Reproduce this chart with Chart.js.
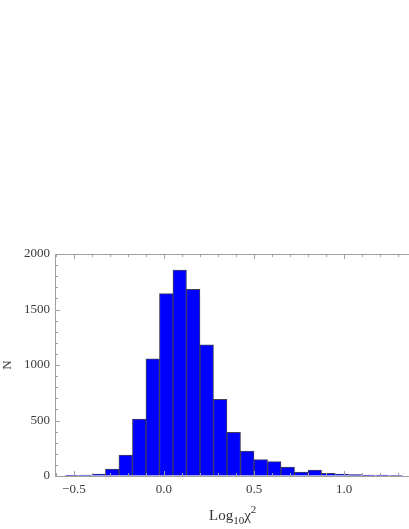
<!DOCTYPE html>
<html>
<head>
<meta charset="utf-8">
<script src="https://cdn.jsdelivr.net/npm/chart.js@4.4.1/dist/chart.umd.min.js"></script>
<style>
  html, body { margin: 0; padding: 0; background: #fff; }
  #wrap { position: relative; width: 409px; height: 529px; }
  #xtitle {
    position: absolute; left: 209px; top: 508px;
    font-family: "Liberation Serif", serif; font-size: 15px; line-height: 15px;
    color: #333; white-space: nowrap;
  }
  #xtitle .sub { font-size: 11px; position: relative; top: 4px; }
  #xtitle .sup { font-size: 11px; position: relative; top: -7px; }
</style>
</head>
<body>
<div id="wrap">
  <canvas id="chart"></canvas>
  <div id="xtitle">Log<span class="sub">10</span>χ<span class="sup">2</span></div>
</div>
<script>
// histogram bins (centres of log10 chi^2 bins, width 0.075)
const binCenters = [-0.5125, -0.4375, -0.3625, -0.2875, -0.2125, -0.1375, -0.0625, 0.0125,
  0.0875, 0.1625, 0.2375, 0.3125, 0.3875, 0.4625, 0.5375, 0.6125, 0.6875, 0.7625,
  0.8375, 0.9125, 0.9875, 1.0625, 1.1375, 1.2125, 1.2875];
const counts = [3, 9, 18, 62, 189, 513, 1055, 1643, 1856, 1682, 1182, 690, 393, 225,
  147, 129, 81, 36, 54, 25, 18, 12, 8, 8, 5];

const xMajor = [-0.5, 0.0, 0.5, 1.0];
const xMinor = [-0.6, -0.4, -0.3, -0.2, -0.1, 0.1, 0.2, 0.3, 0.4, 0.6, 0.7, 0.8, 0.9, 1.1, 1.2, 1.3];
const yMajor = [0, 500, 1000, 1500, 2000];
const yMinor = [100, 200, 300, 400, 600, 700, 800, 900, 1100, 1200, 1300, 1400, 1600, 1700, 1800, 1900];

const frameColor = '#a0a0a0';
const textColor = '#3a3a3a';
const serif = 'Liberation Serif';

// frame ticks pointing inward, like the original
const frameTicks = {
  id: 'frameTicks',
  afterDatasetsDraw(chart) {
    const { ctx, chartArea: a, scales: { x, y } } = chart;
    ctx.save();
    ctx.strokeStyle = frameColor;
    ctx.lineWidth = 1;
    ctx.beginPath();
    const xt = (v, len) => {
      const px = Math.round(x.getPixelForValue(v)) + 0.5;
      if (px < a.left || px > a.right) return;
      ctx.moveTo(px, a.top); ctx.lineTo(px, a.top + len);
      ctx.moveTo(px, a.bottom); ctx.lineTo(px, a.bottom - len);
    };
    const yt = (v, len) => {
      const py = Math.round(y.getPixelForValue(v)) + 0.5;
      ctx.moveTo(a.left, py); ctx.lineTo(a.left + len, py);
    };
    xMajor.forEach(v => xt(v, 5));
    xMinor.forEach(v => xt(v, 3));
    yMajor.forEach(v => yt(v, 5));
    yMinor.forEach(v => yt(v, 3));
    ctx.stroke();
    ctx.restore();
  }
};

new Chart(document.getElementById('chart'), {
  type: 'bar',
  data: {
    datasets: [{
      data: binCenters.map((c, i) => ({ x: c, y: counts[i] })),
      backgroundColor: '#0000ff',
      borderColor: 'rgba(0,0,40,0.75)',
      borderWidth: 1,
      barPercentage: 1,
      categoryPercentage: 1
    }]
  },
  options: {
    responsive: true,
    maintainAspectRatio: false,
    animation: false,
    layout: { padding: { left: 0, right: 1, top: 0, bottom: 0 } },
    plugins: { legend: { display: false }, tooltip: { enabled: false } },
    scales: {
      x: {
        type: 'linear',
        position: 'bottom',
        min: -0.605,
        max: 1.355,
        offset: false,
        grid: { display: true, drawOnChartArea: false, drawTicks: false },
        border: { color: frameColor, width: 1 },
        afterBuildTicks: s => { s.ticks = xMajor.map(v => ({ value: v })); },
        afterFit: s => { s.height = 53; },
        ticks: {
          padding: 6,
          color: textColor,
          font: { family: serif, size: 13 },
          callback: v => (v < 0 ? '\u2212' : '') + Math.abs(v).toFixed(1)
        }
      },
      xTop: {
        type: 'linear',
        position: 'top',
        min: -0.605,
        max: 1.355,
        grid: { display: true, drawOnChartArea: false, drawTicks: false },
        border: { color: frameColor, width: 1 },
        ticks: { display: false },
        afterFit: s => { s.height = 254; }
      },
      y: {
        min: 0,
        max: 2000,
        grid: { display: true, drawOnChartArea: false, drawTicks: false },
        border: { color: frameColor, width: 1 },
        afterBuildTicks: s => { s.ticks = yMajor.map(v => ({ value: v })); },
        afterFit: s => { s.width = 55; },
        ticks: {
          padding: 5,
          color: textColor,
          font: { family: serif, size: 13 },
          callback: v => String(v)
        },
        title: {
          display: true,
          text: 'N',
          color: textColor,
          padding: { top: 0, bottom: 0 },
          font: { family: serif, size: 13 }
        }
      }
    }
  },
  plugins: [frameTicks]
});
</script>
</body>
</html>
